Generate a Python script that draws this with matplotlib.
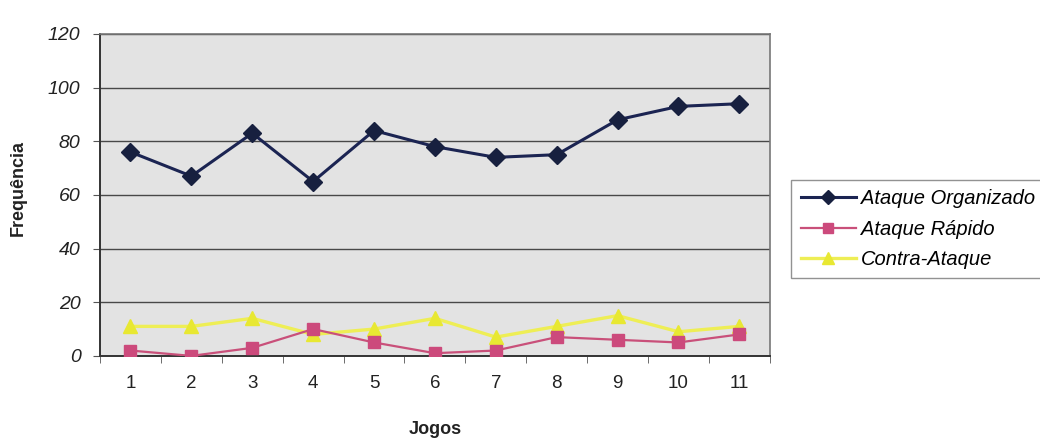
import matplotlib
matplotlib.use("Agg")
import matplotlib.pyplot as plt
import numpy as np

plt.rcParams['font.family'] = ['Liberation Sans', 'DejaVu Sans']

jogos = ["1", "2", "3", "4", "5", "6", "7", "8", "9", "10", "11"]
ataque_organizado = [76, 67, 83, 65, 84, 78, 74, 75, 88, 93, 94]
ataque_rapido = [2, 0, 3, 10, 5, 1, 2, 7, 6, 5, 8]
contra_ataque = [11, 11, 14, 8, 10, 14, 7, 11, 15, 9, 11]
y_ticks = [0, 20, 40, 60, 80, 100, 120]

fig = plt.figure(figsize=(10.4, 4.41), dpi=100)
ax = fig.add_axes([0.0962, 0.193, 0.644, 0.730])
ax.set_facecolor("#e3e3e3")

x = np.arange(len(jogos))
ax.plot(x, ataque_organizado, color="#1b2452", lw=2.2, marker="D", ms=9.5,
        mfc="#17203f", mec="#17203f", label="Ataque Organizado", zorder=3)
ax.plot(x, ataque_rapido, color="#c9507a", lw=1.6, marker="s", ms=9,
        mfc="#cc4a7c", mec="#cc4a7c", label="Ataque Rápido", zorder=4)
ax.plot(x, contra_ataque, color="#eeee55", lw=2.4, marker="^", ms=10,
        mfc="#e8e832", mec="#e8e832", label="Contra-Ataque", zorder=3)

ax.set_xlim(-0.5, len(jogos) - 0.5)
ax.set_ylim(0, 120)
ax.set_yticks(y_ticks)
ax.set_yticklabels([str(v) for v in y_ticks], fontstyle="italic", fontsize=14,
                   color="#222222")
ax.set_xticks(x)
ax.set_xticklabels(jogos, fontsize=13.5, color="#222222")
ax.set_xticks(np.arange(len(jogos) + 1) - 0.5, minor=True)
ax.tick_params(axis="x", which="major", length=0, pad=14)
ax.tick_params(axis="x", which="minor", length=5, color="#555555")
ax.tick_params(axis="y", length=5, color="#555555", pad=9)

ax.grid(axis="y", color="#484848", lw=1.0)
ax.set_axisbelow(True)
for side in ["left", "bottom"]:
    ax.spines[side].set_color("#333333")
    ax.spines[side].set_linewidth(1.4)
for side in ["top", "right"]:
    ax.spines[side].set_color("#777777")
    ax.spines[side].set_linewidth(1.2)

ax.set_ylabel("Frequência", fontsize=13, fontweight="bold", color="#222222",
              va="center")
ax.yaxis.set_label_coords(-0.122, 0.52)
ax.set_xlabel("Jogos", fontsize=13, fontweight="bold", color="#222222",
              labelpad=21)

leg = fig.legend(loc="upper left", bbox_to_anchor=(0.761, 0.592),
                 frameon=True, fancybox=False, prop={"style": "italic", "size": 14.5},
                 handlelength=2.75, handletextpad=0.25, borderpad=0.45,
                 labelspacing=0.58, borderaxespad=0, markerscale=0.8)
leg.get_frame().set_edgecolor("#777777")
leg.get_frame().set_linewidth(1.0)

fig.savefig("out.png", dpi=100)
